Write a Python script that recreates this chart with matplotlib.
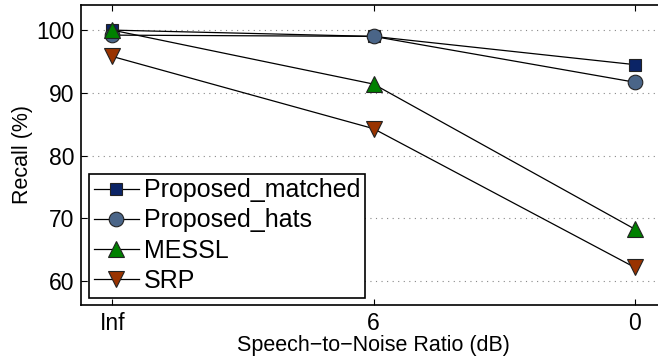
import matplotlib
matplotlib.use("Agg")
import matplotlib.pyplot as plt

plt.rcParams['font.family'] = ['Liberation Sans', 'DejaVu Sans']

snr_labels = ["Inf", "6", "0"]
proposed_matched = [100.0, 99.0, 94.5]
proposed_hats = [99.2, 99.0, 91.7]
messl = [100.0, 91.4, 68.3]
srp = [95.8, 84.3, 62.2]

series = [
    ("Proposed_matched", proposed_matched, "s", "#0b2466", 8.5),
    ("Proposed_hats", proposed_hats, "o", "#4a6588", 10.5),
    ("MESSL", messl, "^", "#008000", 11),
    ("SRP", srp, "v", "#993300", 11),
]

fig = plt.figure(figsize=(6.58, 3.60), dpi=100)
ax = fig.add_axes([81 / 658, 1 - 305 / 360, (666 - 81) / 658, 300 / 360])

x = list(range(len(snr_labels)))
for name, vals, mk, col, ms in series:
    ax.plot(x, vals, color="black", linewidth=0.9, marker=mk, markersize=ms,
            markerfacecolor=col, markeredgecolor="#222222", markeredgewidth=0.8,
            label=name)

ax.set_xlim(-0.12, 2.12)
ax.set_ylim(56.2, 104.0)
ax.set_xticks(x)
ax.set_xticklabels(snr_labels)
ax.set_yticks([60, 70, 80, 90, 100])
ax.tick_params(axis="both", direction="in", labelsize=16.5, length=4, width=0.8,
               top=True, right=False, pad=5)
ax.yaxis.grid(True, linestyle=(0, (1, 4)), color="#888888", linewidth=0.8)
ax.set_axisbelow(True)
for s in ["left", "bottom", "top"]:
    ax.spines[s].set_linewidth(1.2)
ax.spines["right"].set_visible(False)

ax.set_xlabel("Speech\u2212to\u2212Noise Ratio (dB)", fontsize=15.5, labelpad=0)
ax.set_ylabel("Recall (%)", fontsize=15.5, labelpad=2)

leg = ax.legend(loc="lower left", fontsize=18, frameon=True, fancybox=False,
                borderpad=0.2, labelspacing=0.24, handlelength=1.8,
                handletextpad=0.2, borderaxespad=0.3)
leg.get_frame().set_edgecolor("black")
leg.get_frame().set_linewidth(1.2)
leg.get_frame().set_alpha(1)

fig.savefig("out.png", dpi=100)
